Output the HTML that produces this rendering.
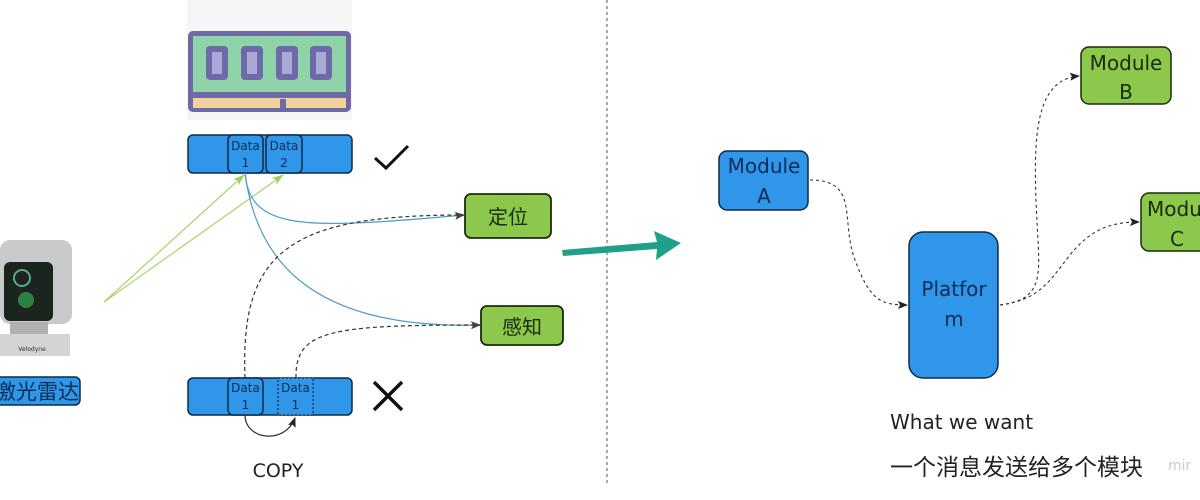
<!DOCTYPE html>
<html><head><meta charset="utf-8"><style>
html,body{margin:0;padding:0;background:#fff;}
body{width:1200px;height:500px;overflow:hidden;position:relative;font-family:"DejaVu Sans","Noto Sans CJK SC",sans-serif;}
svg{position:absolute;left:0;top:0;}
</style></head><body>
<svg width="1200" height="500" viewBox="0 0 1200 500" xmlns="http://www.w3.org/2000/svg" font-family="DejaVu Sans, Noto Sans CJK SC, sans-serif">
<defs>
<marker id="ah" markerWidth="10" markerHeight="8" refX="9" refY="4" orient="auto" markerUnits="userSpaceOnUse"><path d="M0,0 L10,4 L0,8 L2,4z" fill="#222"/></marker>
<marker id="ag" markerWidth="12" markerHeight="8" refX="11" refY="4" orient="auto" markerUnits="userSpaceOnUse"><path d="M0,0 L12,4 L0,8 L3,4z" fill="#9ccf5a"/></marker>
<marker id="ab" markerWidth="10" markerHeight="8" refX="9" refY="4" orient="auto" markerUnits="userSpaceOnUse"><path d="M0,0 L10,4 L0,8 L2,4z" fill="#444"/></marker>
</defs>
<rect x="187" y="0" width="165" height="120" fill="#f6f6f6"/>
<rect x="188" y="31" width="163" height="81" rx="5" fill="#6e6aa8"/>
<rect x="193" y="36" width="153" height="56" fill="#8fd3a8"/>
<rect x="193" y="98" width="153" height="10" fill="#f2d3a0"/>
<g fill="#6e6aa8"><rect x="206" y="46" width="22" height="34" rx="4"/><rect x="241" y="46" width="22" height="34" rx="4"/><rect x="276" y="46" width="22" height="34" rx="4"/><rect x="310" y="46" width="22" height="34" rx="4"/></g>
<g fill="#a9a8d6"><rect x="212" y="52" width="10" height="22"/><rect x="247" y="52" width="10" height="22"/><rect x="282" y="52" width="10" height="22"/><rect x="316" y="52" width="10" height="22"/></g>
<rect x="280" y="99" width="6" height="12" fill="#6e6aa8"/>
<rect x="188" y="135" width="164" height="38" rx="5" fill="#2f96ea" stroke="#0e2a44" stroke-width="1.5"/>
<rect x="228" y="135" width="35" height="38" rx="5" fill="#2f96ea" stroke="#0e2a44" stroke-width="1.5"/>
<rect x="266" y="135" width="36" height="38" rx="5" fill="#2f96ea" stroke="#0e2a44" stroke-width="1.5"/>
<g font-size="12" fill="#0b2e55" text-anchor="middle">
<text x="245.5" y="150">Data</text><text x="245.5" y="167">1</text>
<text x="284" y="150">Data</text><text x="284" y="167">2</text>
</g>
<path d="M375 158 L386 168 L408 146" fill="none" stroke="#111" stroke-width="3"/>
<rect x="188" y="378" width="164" height="37" rx="5" fill="#2f96ea" stroke="#0e2a44" stroke-width="1.5"/>
<rect x="228" y="378" width="35" height="37" rx="5" fill="#2f96ea" stroke="#0e2a44" stroke-width="1.5"/>
<rect x="278" y="378" width="35" height="37" fill="#2f96ea" stroke="#0e2a44" stroke-width="1.2" stroke-dasharray="2,2"/>
<g font-size="12" fill="#0b2e55" text-anchor="middle">
<text x="245.5" y="392">Data</text><text x="245.5" y="409">1</text>
<text x="295.5" y="392">Data</text><text x="295.5" y="409">1</text>
</g>
<path d="M374 382 L402 410 M402 382 L374 410" stroke="#111" stroke-width="3.5"/>
<path d="M245 415 C245 440 285 445 295 418" fill="none" stroke="#333" stroke-width="1.2" marker-end="url(#ah)"/>
<text x="278" y="477" font-size="19" fill="#222" text-anchor="middle">COPY</text>
<rect x="465" y="194" width="86" height="44" rx="6" fill="#8cc84b" stroke="#1a2a0a" stroke-width="1.8"/>
<text x="508" y="224" font-size="20" fill="#1a2a0a" text-anchor="middle">定位</text>
<rect x="481" y="306" width="82" height="39" rx="6" fill="#8cc84b" stroke="#1a2a0a" stroke-width="1.8"/>
<text x="522" y="334" font-size="20" fill="#1a2a0a" text-anchor="middle">感知</text>
<path d="M104 302 L244 175" stroke="#a8d46a" stroke-width="1.2" fill="none" marker-end="url(#ag)"/>
<path d="M104 302 L283 175" stroke="#a8d46a" stroke-width="1.2" fill="none" marker-end="url(#ag)"/>
<path d="M245 173 C250 230 300 230 464 215" stroke="#4d9cc7" stroke-width="1.2" fill="none" marker-end="url(#ab)"/>
<path d="M245 173 C255 250 300 330 480 325" stroke="#4d9cc7" stroke-width="1.2" fill="none" marker-end="url(#ab)"/>
<path d="M245 378 C240 250 290 215 464 215" stroke="#333" stroke-width="1.2" stroke-dasharray="4,3" fill="none"/>
<path d="M296 378 C295 330 330 325 480 325" stroke="#333" stroke-width="1.2" stroke-dasharray="4,3" fill="none"/>
<rect x="0" y="240" width="72" height="84" rx="10" fill="#c9cacc"/>
<rect x="4" y="262" width="49" height="59" rx="6" fill="#1c2420"/>
<circle cx="22" cy="278" r="8" fill="none" stroke="#5a8" stroke-width="2"/>
<circle cx="26" cy="300" r="8" fill="#3a5" opacity=".7"/>
<rect x="10" y="322" width="38" height="14" fill="#b0b0b2"/>
<rect x="0" y="334" width="70" height="22" fill="#d4d4d6"/>
<text x="32" y="351" font-size="6" fill="#333" text-anchor="middle">Velodyne</text>
<rect x="-6" y="377" width="86" height="28" rx="5" fill="#2f96ea" stroke="#0e2a44" stroke-width="1.5"/>
<text x="37" y="399" font-size="21" fill="#0b2e55" text-anchor="middle">激光雷达</text>
<line x1="607" y1="0" x2="607" y2="485" stroke="#555" stroke-width="1" stroke-dasharray="3,3"/>
<path d="M562 250 L657 242 L654 231 L681 243 L656 260 L657 249 L563 256z" fill="#1ea08a"/>
<rect x="719" y="151" width="89" height="59" rx="8" fill="#2f96ea" stroke="#0e2a44" stroke-width="1.5"/>
<text x="764" y="173" font-size="20" fill="#0b2e55" text-anchor="middle">Module</text><text x="764" y="203" font-size="20" fill="#0b2e55" text-anchor="middle">A</text>
<rect x="909" y="232" width="89" height="146" rx="14" fill="#2f96ea" stroke="#0e2a44" stroke-width="1.5"/>
<text x="954" y="296" font-size="20" fill="#0b2e55" text-anchor="middle">Platfor</text><text x="954" y="326" font-size="20" fill="#0b2e55" text-anchor="middle">m</text>
<rect x="1081" y="47" width="90" height="57" rx="8" fill="#8cc84b" stroke="#1a2a0a" stroke-width="1.5"/>
<text x="1126" y="70" font-size="20" fill="#1a2a0a" text-anchor="middle">Module</text><text x="1126" y="99" font-size="20" fill="#1a2a0a" text-anchor="middle">B</text>
<rect x="1141" y="193" width="70" height="58" rx="8" fill="#8cc84b" stroke="#1a2a0a" stroke-width="1.5"/>
<text x="1147" y="216" font-size="20" fill="#1a2a0a">Modu</text><text x="1177" y="246" font-size="20" fill="#1a2a0a" text-anchor="middle">C</text>
<path d="M810 180 C860 180 840 220 855 260 C870 300 880 305 907 305" stroke="#333" stroke-width="1.1" stroke-dasharray="3,3" fill="none" marker-end="url(#ah)"/>
<path d="M1000 305 C1040 300 1040 280 1038 240 C1033 150 1030 80 1079 76" stroke="#333" stroke-width="1.1" stroke-dasharray="3,3" fill="none" marker-end="url(#ah)"/>
<path d="M1000 305 C1040 300 1050 280 1070 255 C1090 230 1110 222 1139 222" stroke="#333" stroke-width="1.1" stroke-dasharray="3,3" fill="none" marker-end="url(#ah)"/>
<text x="890" y="429" font-size="20" fill="#222">What we want</text>
<text x="890" y="475" font-size="23" fill="#222">一个消息发送给多个模块</text>
<text x="1168" y="470" font-size="14" fill="#ccc">mir</text>
</svg>
</body></html>
